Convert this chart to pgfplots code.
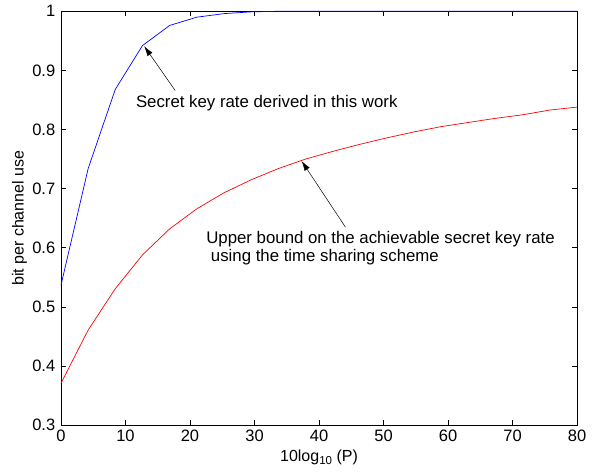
\documentclass[border=0pt]{standalone}
\usepackage{pgfplots}
\pgfplotsset{compat=1.18}
\usetikzlibrary{arrows.meta}
\usepackage{fontspec}
\setmainfont{Liberation Sans}
\begin{document}
\fontsize{16.8}{19}\selectfont
\begin{tikzpicture}
\begin{axis}[
  scale only axis, width=516pt, height=414pt,
  xmin=0, xmax=80, ymin=0.3, ymax=1,
  xtick={0,10,...,80}, ytick={0.3,0.4,...,1.0},
  yticklabel style={/pgf/number format/fixed,/pgf/number format/precision=1},
  /pgf/number format/assume math mode=true,
  tick align=inside, major tick length=5pt,
  tick style={black, line width=0.8pt},
  axis line style={line width=0.8pt},
  xlabel={10log\raisebox{-0.35ex}{\fontsize{11.5}{12}\selectfont 10} (P)}, ylabel={bit per channel use},
  xlabel style={yshift=3pt}, ylabel style={yshift=-6pt},
  tick label style={font=\fontsize{16.5}{19}\selectfont},
  xticklabel style={yshift=1pt},
  label style={font=\fontsize{16}{18}\selectfont},
  clip=false,
]
\addplot[blue, line width=0.7pt] coordinates {
(0,0.537) (4.21,0.734) (8.42,0.868) (12.63,0.942) (16.84,0.976) (21.05,0.990)
(25.26,0.996) (29.47,0.999) (33.68,1.0) (37.89,1.0) (42.11,1.0) (46.32,1.0)
(50.53,1.0) (54.74,1.0) (58.95,1.0) (63.16,1.0) (67.37,1.0) (71.58,1.0)
(75.79,1.0) (80,1.0)};
\addplot[red, line width=0.7pt] coordinates {
(0,0.371) (4.21,0.461) (8.42,0.531) (12.63,0.588) (16.84,0.632) (21.05,0.666)
(25.26,0.693) (29.47,0.715) (33.68,0.734) (37.89,0.750) (42.11,0.763) (46.32,0.775)
(50.53,0.786) (54.74,0.796) (58.95,0.805) (63.16,0.812) (67.37,0.819) (71.58,0.825)
(75.79,0.833) (80,0.838)};
\draw[-{Latex[length=10pt,width=6pt]}, line width=0.5pt] (axis cs:17.7,0.866) -- (axis cs:12.9,0.941);
\draw[-{Latex[length=10pt,width=6pt]}, line width=0.5pt] (axis cs:44.1,0.635) -- (axis cs:37.3,0.747);
\node[anchor=base west, inner sep=0pt] at (axis cs:11.6,0.8376) {Secret key rate derived in this work};
\node[anchor=base west, inner sep=0pt] at (axis cs:22.5,0.608) {Upper bound on the achievable secret key rate};
\node[anchor=base west, inner sep=0pt] at (axis cs:22.5,0.577) {\ using the time sharing scheme};
\end{axis}
\path[use as bounding box] (current axis.south west) ++(-61pt,-50pt) rectangle ([shift={(20pt,10pt)}]current axis.north east);
\end{tikzpicture}
\end{document}
